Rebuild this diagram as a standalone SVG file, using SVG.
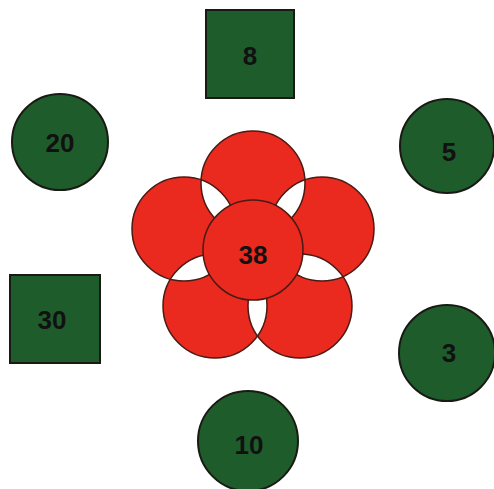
<svg xmlns="http://www.w3.org/2000/svg" width="494" height="489" viewBox="0 0 494 489">
<style>
.g{fill:#1f5c2c;stroke:#1a1a14;stroke-width:2}
.p{fill:#ea2a1e;stroke:#4a1a14;stroke-width:1.5}
.t{font-family:"Liberation Sans Narrow","Liberation Sans",Arial,sans-serif;font-weight:bold;font-size:26px;fill:#111;text-anchor:middle;dominant-baseline:central}
</style>
<rect width="494" height="489" fill="#fff"/>
<g id="connectors"/>
<g id="flower">
<path class="p" fill-rule="evenodd" d="M201,183 a52,52 0 1,0 104,0 a52,52 0 1,0 -104,0 Z M270,229 a52,52 0 1,0 104,0 a52,52 0 1,0 -104,0 Z M132,229 a52,52 0 1,0 104,0 a52,52 0 1,0 -104,0 Z M163,306 a52,52 0 1,0 104,0 a52,52 0 1,0 -104,0 Z M248,306 a52,52 0 1,0 104,0 a52,52 0 1,0 -104,0 Z"/>
</g>
<g id="n38"><circle class="p" cx="253" cy="250" r="50"/><text class="t" x="253" y="255">38</text></g>
<g id="n8"><rect class="g" x="206" y="10" width="88" height="88"/><text class="t" x="250" y="56">8</text></g>
<g id="n20"><circle class="g" cx="60" cy="142" r="48"/><text class="t" x="60" y="143">20</text></g>
<g id="n5"><circle class="g" cx="447" cy="146" r="47"/><text class="t" x="449" y="152">5</text></g>
<g id="n30"><rect class="g" x="10" y="275" width="90" height="88"/><text class="t" x="52" y="320">30</text></g>
<g id="n3"><circle class="g" cx="447" cy="353" r="48"/><text class="t" x="449" y="353">3</text></g>
<g id="n10"><circle class="g" cx="248" cy="441" r="50"/><text class="t" x="249" y="445">10</text></g>
</svg>
